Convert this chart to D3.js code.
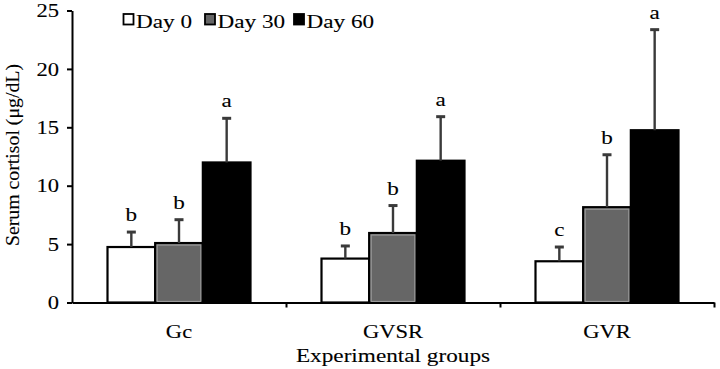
<!DOCTYPE html>
<html>
<head>
<meta charset="utf-8">
<script src="https://cdn.jsdelivr.net/npm/d3@7"></script>
<style>
  body { margin: 0; background: #fff; }
  text { font-family: "Liberation Serif", "Times New Roman", serif; fill: #000; stroke: #000; stroke-width: 0.1; }
</style>
</head>
<body>
<div id="chart"></div>
<script>
// values (mean, upward SD, significance letter)
var groups = ["Gc", "GVSR", "GVR"];
var days = ["Day 0", "Day 30", "Day 60"];
var day0 = [4.75, 3.76, 3.53];
var day30 = [5.09, 5.95, 8.16];
var day60 = [11.99, 12.14, 14.75];
var sd0 = [1.28, 1.08, 1.22];
var sd30 = [2.0, 2.35, 4.49];
var sd60 = [3.78, 3.77, 8.61];
var letters0 = ["b", "b", "c"];
var letters30 = ["b", "b", "b"];
var letters60 = ["a", "a", "a"];
var yTicks = [0, 5, 10, 15, 20, 25];

var width = 720, height = 369;
var padding = { top: 10.5, right: 6, bottom: 66.5, left: 72 };
var sx = 1.22; // figure text is stretched horizontally

var means = [day0, day30, day60];
var sds = [sd0, sd30, sd60];
var letters = [letters0, letters30, letters60];
var fills = ["#ffffff", "#666666", "#000000"];

var data = [];
groups.forEach(function(g, gi) {
    days.forEach(function(d, di) {
        data.push({ group: g, day: d, di: di, v: means[di][gi], sd: sds[di][gi], letter: letters[di][gi] });
    });
});

var svg = d3.select("#chart").append("svg")
    .attr("width", width)
    .attr("height", height);

var x0 = d3.scaleBand().domain(groups)
    .range([padding.left, width - padding.right]);
var x1 = d3.scaleBand().domain(days)
    .range([35.5, x0.bandwidth() - 35.5]);
var y = d3.scaleLinear().domain([0, 25])
    .range([height - padding.bottom, padding.top]);

// bars
var bars = svg.append("g").selectAll("g")
    .data(data).enter().append("g")
    .attr("transform", function(d) { return "translate(" + (x0(d.group) + x1(d.day)) + ",0)"; });

bars.append("rect")
    .attr("x", 0)
    .attr("y", function(d) { return y(d.v); })
    .attr("width", x1.bandwidth())
    .attr("height", function(d) { return y(0) - y(d.v); })
    .attr("fill", function(d) { return fills[d.di]; })
    .attr("stroke", "#000")
    .attr("stroke-width", 2.2);

// light inner edge of the grey bars
bars.filter(function(d) { return d.di == 1; }).append("rect")
    .attr("x", 2)
    .attr("y", function(d) { return y(d.v) + 2; })
    .attr("width", x1.bandwidth() - 4)
    .attr("height", function(d) { return y(0) - y(d.v) - 3; })
    .attr("fill", "none")
    .attr("stroke", "#9a9a9a")
    .attr("stroke-width", 1.2);

// error bars (upper only)
var cx = x1.bandwidth() / 2;
bars.append("line")
    .attr("x1", cx).attr("x2", cx)
    .attr("y1", function(d) { return y(d.v); })
    .attr("y2", function(d) { return y(d.v + d.sd); })
    .attr("stroke", "#3a3a3a")
    .attr("stroke-width", 2.4);
bars.append("line")
    .attr("x1", cx - 4.5).attr("x2", cx + 4.5)
    .attr("y1", function(d) { return y(d.v + d.sd); })
    .attr("y2", function(d) { return y(d.v + d.sd); })
    .attr("stroke", "#3a3a3a")
    .attr("stroke-width", 3);

bars.append("text")
    .attr("transform", function(d) { return "translate(" + cx + "," + (y(d.v + d.sd) - 11) + ") scale(" + sx + ",1)"; })
    .attr("text-anchor", "middle")
    .style("font-size", "19px")
    .text(function(d) { return d.letter; });

// y axis
var yAxis = d3.axisLeft(y).tickValues(yTicks).tickSize(5).tickSizeOuter(0).tickPadding(8);
var gy = svg.append("g")
    .attr("transform", "translate(" + padding.left + ",0)")
    .call(yAxis);
gy.select(".domain").attr("stroke", "#000").attr("stroke-width", 2);
gy.selectAll(".tick line").attr("stroke", "#000").attr("stroke-width", 2);
gy.selectAll(".tick text")
    .style("font-size", "19.5px")
    .attr("font-family", null)
    .attr("dy", "0.32em")
    .attr("transform", "scale(" + sx * 0.95 + ",1)")
    .attr("x", -13 / (sx * 0.95));

// x axis: line with ticks between groups
var xEdge = d3.scaleLinear().domain([0, groups.length]).range([padding.left, width - padding.right]);
var xAxis = d3.axisBottom(xEdge).tickValues([1, 2, 3]).tickFormat("").tickSize(5).tickSizeOuter(0);
var gx = svg.append("g")
    .attr("transform", "translate(0," + y(0) + ")")
    .call(xAxis);
gx.select(".domain").attr("stroke", "#000").attr("stroke-width", 2);
gx.selectAll(".tick line").attr("stroke", "#000").attr("stroke-width", 2);

// group labels
svg.append("g").selectAll("text")
    .data(groups).enter().append("text")
    .attr("transform", function(d) { return "translate(" + (x0(d) + x0.bandwidth() / 2) + ",338) scale(" + sx + ",1)"; })
    .attr("text-anchor", "middle")
    .style("font-size", "18.5px")
    .text(function(d) { return d; });

// axis titles
svg.append("text")
    .attr("transform", "translate(" + ((padding.left + width - padding.right) / 2) + ",362) scale(" + sx * 1.03 + ",1)")
    .attr("text-anchor", "middle")
    .style("font-size", "18.5px")
    .text("Experimental groups");

svg.append("text")
    .attr("transform", "translate(19,155) rotate(-90) scale(1.07,1)")
    .attr("text-anchor", "middle")
    .style("font-size", "18.5px")
    .text("Serum cortisol (μg/dL)");

// legend
var legendX = [123.5, 205, 294];
var legend = svg.append("g").selectAll("g")
    .data(days).enter().append("g")
    .attr("transform", function(d, i) { return "translate(" + legendX[i] + ",14)"; });
legend.append("rect")
    .attr("width", 10).attr("height", 10.5)
    .attr("fill", function(d, i) { return fills[i]; })
    .attr("stroke", "#000")
    .attr("stroke-width", 1.8);
legend.append("text")
    .attr("transform", "translate(12.5,13.5) scale(" + sx + ",1)")
    .style("font-size", "19px")
    .text(function(d) { return d; });
</script>
</body>
</html>
